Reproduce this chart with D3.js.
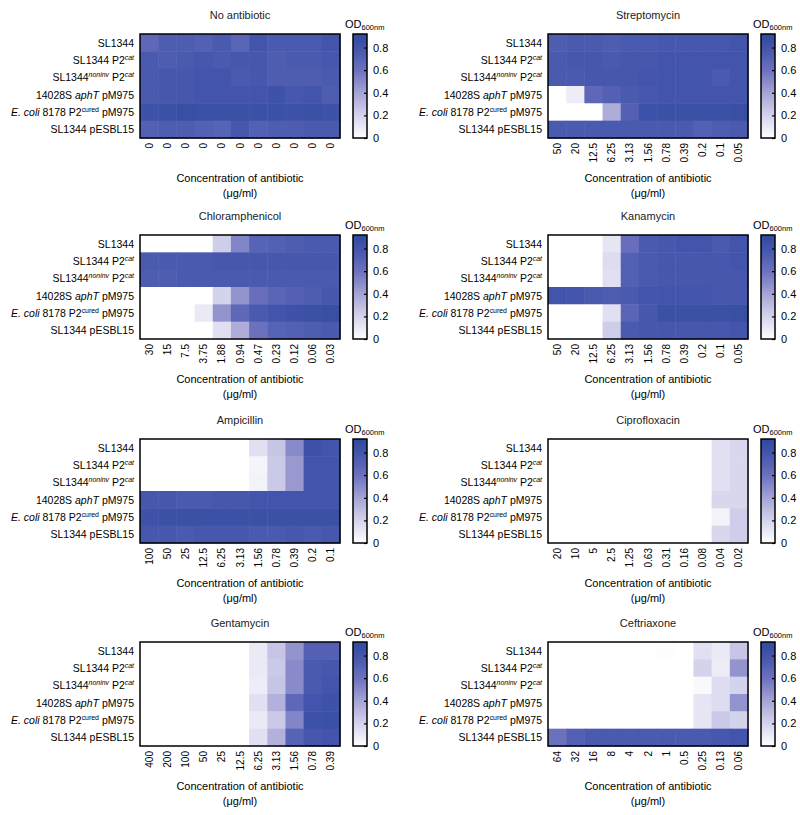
<!DOCTYPE html>
<html>
<head>
<meta charset="utf-8">
<script src="https://cdn.jsdelivr.net/npm/d3@7"></script>
<style>
  body { margin: 0; background: #fff; }
  svg { font-family: "Liberation Sans", Arial, sans-serif; }
</style>
</head>
<body>
<svg id="chart" width="800" height="815"></svg>
<script>
// ---------- DATA ----------
const strains = [
  "SL1344",
  "SL1344 P2<sup><i>cat</i></sup>",
  "SL1344<sup><i>noninv</i></sup> P2<sup><i>cat</i></sup>",
  "14028S <i>aphT</i> pM975",
  "<i>E. coli</i> 8178 P2<sup>cured</sup> pM975",
  "SL1344 pESBL15"
];

const titles = ["No antibiotic", "Streptomycin", "Chloramphenicol", "Kanamycin",
                "Ampicillin", "Ciprofloxacin", "Gentamycin", "Ceftriaxone"];

const concNone  = ["0","0","0","0","0","0","0","0","0","0","0"];
const concStrep = ["50","20","12.5","6.25","3.13","1.56","0.78","0.39","0.2","0.1","0.05"];
const concChlor = ["30","15","7.5","3.75","1.88","0.94","0.47","0.23","0.12","0.06","0.03"];
const concKan   = ["50","20","12.5","6.25","3.13","1.56","0.78","0.39","0.2","0.1","0.05"];
const concAmp   = ["100","50","25","12.5","6.25","3.13","1.56","0.78","0.39","0.2","0.1"];
const concCip   = ["20","10","5","2.5","1.25","0.63","0.31","0.16","0.08","0.04","0.02"];
const concGen   = ["400","200","100","50","25","12.5","6.25","3.13","1.56","0.78","0.39"];
const concCef   = ["64","32","16","8","4","2","1","0.5","0.25","0.13","0.06"];

const odNone = [
  [0.66,0.74,0.74,0.72,0.76,0.68,0.80,0.76,0.76,0.76,0.80],
  [0.76,0.74,0.76,0.78,0.76,0.78,0.78,0.74,0.76,0.76,0.78],
  [0.76,0.78,0.78,0.80,0.80,0.76,0.78,0.74,0.74,0.74,0.76],
  [0.76,0.78,0.78,0.80,0.80,0.80,0.80,0.82,0.78,0.80,0.74],
  [0.82,0.84,0.86,0.84,0.84,0.84,0.84,0.84,0.82,0.84,0.82],
  [0.72,0.74,0.74,0.72,0.70,0.78,0.72,0.74,0.74,0.76,0.76]
];
const odStrep = [
  [0.74,0.76,0.76,0.74,0.76,0.76,0.78,0.78,0.78,0.78,0.80],
  [0.76,0.78,0.78,0.76,0.78,0.78,0.80,0.80,0.80,0.80,0.80],
  [0.76,0.76,0.78,0.78,0.78,0.80,0.80,0.80,0.80,0.76,0.80],
  [0.00,0.08,0.66,0.72,0.76,0.78,0.80,0.80,0.80,0.80,0.80],
  [0.00,0.00,0.00,0.36,0.72,0.82,0.84,0.84,0.84,0.84,0.86],
  [0.76,0.76,0.76,0.76,0.76,0.76,0.76,0.76,0.72,0.74,0.76]
];
const odChlor = [
  [0.00,0.00,0.00,0.00,0.22,0.52,0.70,0.72,0.74,0.76,0.76],
  [0.76,0.76,0.76,0.76,0.78,0.78,0.78,0.78,0.78,0.78,0.78],
  [0.74,0.74,0.76,0.76,0.76,0.76,0.76,0.76,0.76,0.76,0.76],
  [0.00,0.00,0.00,0.00,0.20,0.46,0.62,0.68,0.72,0.74,0.78],
  [0.00,0.00,0.00,0.10,0.46,0.66,0.76,0.80,0.82,0.84,0.86],
  [0.00,0.00,0.00,0.00,0.14,0.36,0.60,0.70,0.72,0.74,0.76]
];
const odKan = [
  [0.00,0.00,0.00,0.12,0.62,0.76,0.78,0.80,0.80,0.76,0.80],
  [0.00,0.00,0.00,0.16,0.72,0.76,0.78,0.78,0.78,0.78,0.80],
  [0.00,0.00,0.00,0.14,0.72,0.76,0.78,0.78,0.78,0.78,0.78],
  [0.80,0.80,0.76,0.74,0.76,0.80,0.80,0.80,0.80,0.78,0.78],
  [0.00,0.00,0.00,0.14,0.68,0.78,0.84,0.84,0.84,0.84,0.86],
  [0.00,0.00,0.00,0.22,0.76,0.78,0.78,0.78,0.78,0.78,0.80]
];
const odAmp = [
  [0.00,0.00,0.00,0.00,0.00,0.00,0.14,0.26,0.50,0.82,0.80],
  [0.00,0.00,0.00,0.00,0.00,0.00,0.05,0.24,0.44,0.80,0.80],
  [0.00,0.00,0.00,0.00,0.00,0.00,0.06,0.24,0.44,0.80,0.80],
  [0.78,0.78,0.76,0.76,0.78,0.78,0.80,0.80,0.80,0.80,0.80],
  [0.82,0.84,0.84,0.84,0.84,0.84,0.84,0.84,0.84,0.84,0.84],
  [0.78,0.78,0.76,0.78,0.78,0.78,0.76,0.76,0.78,0.76,0.78]
];
const odCip = [
  [0,0,0,0,0,0,0,0,0,0.14,0.18],
  [0,0,0,0,0,0,0,0,0,0.14,0.18],
  [0,0,0,0,0,0,0,0,0,0.14,0.18],
  [0,0,0,0,0,0,0,0,0,0.18,0.18],
  [0,0,0,0,0,0,0,0,0,0.06,0.22],
  [0,0,0,0,0,0,0,0,0,0.18,0.22]
];
const odGen = [
  [0,0,0,0,0,0,0.10,0.26,0.46,0.72,0.72],
  [0,0,0,0,0,0,0.10,0.24,0.50,0.76,0.78],
  [0,0,0,0,0,0,0.08,0.26,0.50,0.76,0.80],
  [0,0,0,0,0,0,0.14,0.34,0.66,0.80,0.82],
  [0,0,0,0,0,0,0.10,0.24,0.52,0.82,0.84],
  [0,0,0,0,0,0,0.14,0.34,0.70,0.78,0.80]
];
const odCef = [
  [0,0,0,0,0,0,0.01,0,0.14,0.10,0.26],
  [0,0,0,0,0,0,0,0,0.20,0.08,0.46],
  [0,0,0,0,0,0,0,0,0.03,0.16,0.20],
  [0,0,0,0,0,0,0,0,0.12,0.16,0.46],
  [0,0,0,0,0,0,0,0,0.12,0.24,0.20],
  [0.60,0.72,0.76,0.76,0.76,0.76,0.76,0.76,0.76,0.78,0.80]
];

const colorTicks = [0, 0.2, 0.4, 0.6, 0.8];
const odMax = 0.92;

const panels = [
  { title: titles[0], conc: concNone,  od: odNone  },
  { title: titles[1], conc: concStrep, od: odStrep },
  { title: titles[2], conc: concChlor, od: odChlor },
  { title: titles[3], conc: concKan,   od: odKan   },
  { title: titles[4], conc: concAmp,   od: odAmp   },
  { title: titles[5], conc: concCip,   od: odCip   },
  { title: titles[6], conc: concGen,   od: odGen   },
  { title: titles[7], conc: concCef,   od: odCef   }
];

// ---------- STYLE / LAYOUT ----------
const colLeft = [140, 548];
const rowTop = [34, 235, 439, 642];
const mapW = 200, mapH = 104;
const barGap = 13, barW = 14;

const color = d3.scaleLinear()
  .domain([0, 0.2, 0.4, 0.6, 0.8, odMax])
  .range(["#ffffff", "#d4d3ec", "#a4a3d5", "#6c71be", "#4254ab", "#2e4a9d"])
  .interpolate(d3.interpolateRgb)
  .clamp(true);

const svg = d3.select("#chart");
const defs = svg.append("defs");
const grad = defs.append("linearGradient").attr("id", "odgrad")
  .attr("x1", 0).attr("y1", 1).attr("x2", 0).attr("y2", 0);
d3.range(0, 1.0001, 0.05).forEach(t => {
  grad.append("stop").attr("offset", t).attr("stop-color", color(t * odMax));
});

function richText(sel, markup, baseSize) {
  const tokens = markup.split(/(<\/?i>|<\/?sup>)/).filter(s => s.length);
  let italic = false, sup = false, shift = 0;
  tokens.forEach(tok => {
    if (tok === "<i>") italic = true;
    else if (tok === "</i>") italic = false;
    else if (tok === "<sup>") sup = true;
    else if (tok === "</sup>") sup = false;
    else {
      const target = sup ? -4 : 0;
      sel.append("tspan")
        .attr("dy", target - shift)
        .attr("font-size", sup ? baseSize * 0.66 : baseSize)
        .attr("font-style", italic ? "italic" : "normal")
        .text(tok);
      shift = target;
    }
  });
}

panels.forEach((p, i) => {
  const x0 = colLeft[i % 2];
  const y0 = rowTop[Math.floor(i / 2)];
  const g = svg.append("g").attr("transform", `translate(${x0},${y0})`);

  const xs = d3.scaleBand().domain(d3.range(p.conc.length)).range([0, mapW]);
  const ys = d3.scaleBand().domain(d3.range(strains.length)).range([0, mapH]);

  const cells = [];
  p.od.forEach((row, r) => row.forEach((v, c) => cells.push({ r, c, v })));
  g.selectAll("rect.cell").data(cells).join("rect")
    .attr("class", "cell")
    .attr("x", d => xs(d.c))
    .attr("y", d => ys(d.r))
    .attr("width", xs.bandwidth() + 0.5)
    .attr("height", ys.bandwidth() + 0.5)
    .attr("fill", d => color(d.v));

  g.append("rect").attr("width", mapW).attr("height", mapH)
    .attr("fill", "none").attr("stroke", "#000").attr("stroke-width", 1.5);

  // title
  g.append("text").attr("x", mapW / 2).attr("y", -15)
    .attr("text-anchor", "middle").attr("font-size", 11).attr("fill", "#222")
    .text(p.title);

  // row labels
  strains.forEach((s, r) => {
    const t = g.append("text")
      .attr("x", -6).attr("y", ys(r) + ys.bandwidth() / 2 + 4)
      .attr("text-anchor", "end").attr("fill", "#000");
    richText(t, s, 10.5);
  });

  // x axis
  const xa = g.append("g").attr("transform", `translate(0,${mapH})`)
    .call(d3.axisBottom(xs).tickSize(0).tickFormat(k => p.conc[k]));
  xa.select(".domain").remove();
  xa.selectAll("text")
    .attr("font-size", 10).attr("font-family", "Liberation Sans, Arial, sans-serif")
    .attr("fill", "#000")
    .attr("transform", "rotate(-90)")
    .attr("text-anchor", "end")
    .attr("x", -5).attr("y", 0).attr("dy", "0.35em");

  g.append("text").attr("x", mapW / 2).attr("y", 148)
    .attr("text-anchor", "middle").attr("font-size", 11)
    .text("Concentration of antibiotic");
  g.append("text").attr("x", mapW / 2).attr("y", 163)
    .attr("text-anchor", "middle").attr("font-size", 11)
    .text("(\u03bcg/ml)");

  // colour bar
  const bx = mapW + barGap;
  g.append("rect").attr("x", bx).attr("y", 0).attr("width", barW).attr("height", mapH)
    .attr("fill", "url(#odgrad)").attr("stroke", "#000").attr("stroke-width", 1.5);
  const cs = d3.scaleLinear().domain([0, odMax]).range([mapH, 0]);
  const ca = g.append("g").attr("transform", `translate(${bx + barW},0)`)
    .call(d3.axisRight(cs).tickValues(colorTicks).tickSize(-3).tickPadding(6)
      .tickFormat(d3.format("")));
  ca.select(".domain").remove();
  ca.selectAll("line").attr("stroke", "#000").attr("stroke-width", 1.2);
  ca.selectAll("text").attr("font-size", 11)
    .attr("font-family", "Liberation Sans, Arial, sans-serif").attr("fill", "#000");

  const od = g.append("text").attr("x", bx - 8).attr("y", -6).attr("font-size", 11);
  od.append("tspan").text("OD");
  od.append("tspan").attr("font-size", 7.5).attr("dy", 2).text("600nm");
});
</script>
</body>
</html>
